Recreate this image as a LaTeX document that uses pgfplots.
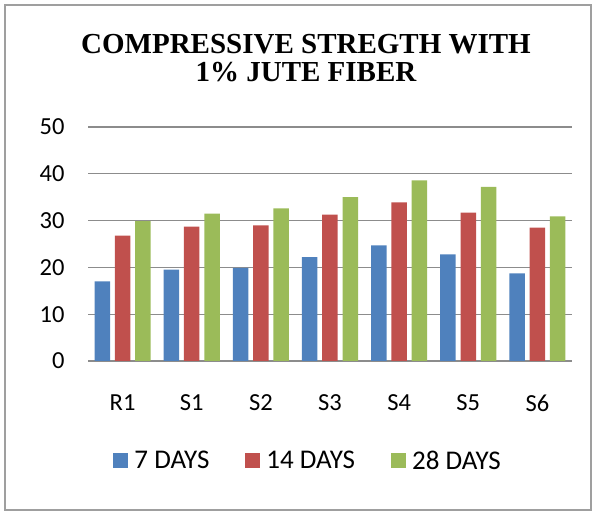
\documentclass[border=0pt]{standalone}
\usepackage{fontspec}
\setmainfont{Carlito}
\newfontfamily\titlefont{Liberation Serif}
\usepackage{pgfplots}
\pgfplotsset{compat=1.18}
\definecolor{cb}{HTML}{4F81BD}
\definecolor{cr}{HTML}{C0504D}
\definecolor{cg}{HTML}{9BBB59}
\definecolor{gridc}{HTML}{8C8C8C}
\pgfplotstableread{
x d7 d14 d28
0 17.0 26.8 29.9
1 19.5 28.7 31.5
2 19.9 29.0 32.6
3 22.2 31.3 35.0
4 24.7 33.9 38.6
5 22.8 31.7 37.2
6 18.7 28.5 30.9
}\datatable
\begin{document}
\begin{tikzpicture}
\path[use as bounding box] (0pt,0pt) rectangle (595pt,511pt);
\draw[gray!75, line width=1.3pt] (5pt,1pt) rectangle (591pt,506pt);
\node[align=center, font=\titlefont\bfseries\fontsize{29}{28.5}\selectfont] at (306pt,453pt) {COMPRESSIVE STREGTH WITH\\1\% JUTE FIBER};
\begin{axis}[
  at={(88pt,150pt)}, anchor=south west,
  scale only axis, width=484pt, height=234pt,
  ybar=4.8pt, bar width=15.5pt,
  xmin=-0.5, xmax=6.5, ymin=0, ymax=50,
  xtick=data, xticklabels={R1,S1,S2,S3,S4,S5,S6},
  ytick={0,10,20,30,40,50},
  ymajorgrids, grid style={gridc, line width=1.3pt},
  axis x line*=bottom, axis y line*=left,
  x axis line style={gridc, line width=1.3pt, -},
  y axis line style={draw=none},
  major tick length=0pt,
  tick label style={font=\fontsize{24.5}{28}\selectfont},
  /pgf/number format/assume math mode=true,
  xticklabel style={yshift=-30pt},
  yticklabel style={xshift=-20pt},
  legend style={at={(0.459,-0.427)}, anchor=center, draw=none, fill=none,
    font=\fontsize{27}{30}\selectfont, legend columns=3,
    nodes={inner xsep=6pt, inner ysep=1pt},
    /tikz/every even column/.append style={column sep=30pt}},
  legend image code/.code={\fill[#1] (0pt,-7.5pt) rectangle (15pt,7.5pt);},
]
\addplot[fill=cb, draw=none] table[x=x,y=d7] {\datatable};
\addplot[fill=cr, draw=none] table[x=x,y=d14] {\datatable};
\addplot[fill=cg, draw=none] table[x=x,y=d28] {\datatable};
\legend{7 DAYS, 14 DAYS, 28 DAYS}
\end{axis}
\end{tikzpicture}
\end{document}
